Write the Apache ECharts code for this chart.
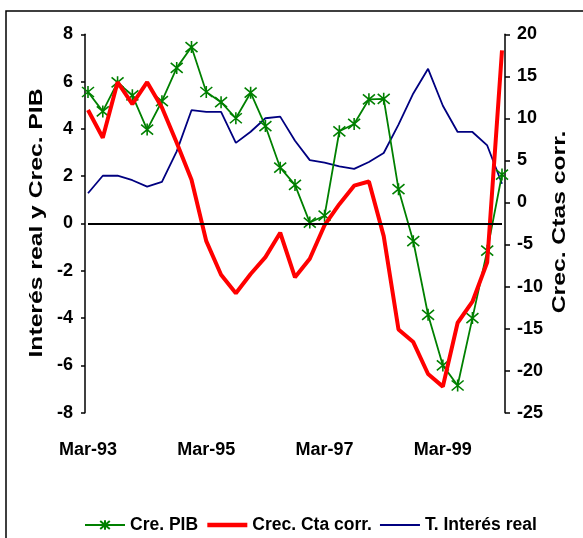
<!DOCTYPE html>
<html>
<head>
<meta charset="utf-8">
<script src="https://cdn.jsdelivr.net/npm/echarts@6/dist/echarts.min.js"></script>
<style>
html,body{margin:0;padding:0;background:#fff;}
#chart{width:583px;height:538px;}
</style>
</head>
<body>
<div id="chart"></div>
<script>
const categories = ['Mar-93','Jun-93','Sep-93','Dec-93','Mar-94','Jun-94','Sep-94','Dec-94',
  'Mar-95','Jun-95','Sep-95','Dec-95','Mar-96','Jun-96','Sep-96','Dec-96',
  'Mar-97','Jun-97','Sep-97','Dec-97','Mar-98','Jun-98','Sep-98','Dec-98',
  'Mar-99','Jun-99','Sep-99','Dec-99','Mar-00'];
const crePIB = [5.56, 4.74, 5.97, 5.42, 3.97, 5.17, 6.58, 7.46, 5.56, 5.13, 4.45, 5.53, 4.12, 2.36, 1.63, 0.04,
  0.33, 3.90, 4.21, 5.25, 5.27, 1.45, -0.75, -3.86, -6.0, -6.85, -4.0, -1.15, 2.07];
const crecCta = [11.0, 7.7, 14.3, 11.7, 14.3, 11.3, 7.1, 2.7, -4.6, -8.6, -10.8, -8.5, -6.5, -3.6, -8.9, -6.7,
  -2.7, -0.2, 2.0, 2.5, -4.0, -15.1, -16.6, -20.4, -21.9, -14.3, -11.8, -7.1, 18.1];
const tInteres = [1.28, 2.02, 2.02, 1.83, 1.56, 1.76, 3.05, 4.79, 4.72, 4.72, 3.41, 3.88, 4.45, 4.52, 3.5, 2.68,
  2.57, 2.42, 2.31, 2.6, 2.98, 4.18, 5.5, 6.54, 4.98, 3.87, 3.87, 3.3, 1.68];
const leftTicks = {min: -8, max: 8, interval: 2};
const rightTicks = {min: -25, max: 20, interval: 5};

const font = '"Liberation Sans", Arial, sans-serif';
const starPath = 'path://M0,-6L0,6M-5,-5L5,5M-5,5L5,-5';

const chart = echarts.init(document.getElementById('chart'), null, {renderer: 'canvas'});
chart.setOption({
  animation: false,
  backgroundColor: '#fff',
  grid: {left: 88, right: 81, top: 34.3, bottom: 125.3, containLabel: false},
  legend: {
    left: 79, top: 511,
    itemWidth: 40, itemHeight: 12, itemGap: 7,
    textStyle: {fontFamily: font, fontWeight: 'bold', fontSize: 17.5, color: '#000'},
    data: [
      {name: 'Cre. PIB', lineStyle: {width: 2}},
      {name: 'Crec. Cta corr.', itemStyle: {opacity: 0}, lineStyle: {width: 4.5}},
      {name: 'T. Interés real', itemStyle: {opacity: 0}, lineStyle: {width: 2}}
    ]
  },
  xAxis: {
    type: 'category', data: categories, boundaryGap: false,
    axisLine: {show: false}, axisTick: {show: false},
    axisLabel: {interval: 7, margin: 28, fontFamily: font, fontWeight: 'bold', fontSize: 18, color: '#000'},
    splitLine: {show: false}
  },
  yAxis: [
    {
      type: 'value', position: 'left', offset: 3,
      min: leftTicks.min, max: leftTicks.max, interval: leftTicks.interval,
      axisLine: {show: true, lineStyle: {color: '#000', width: 1.5}},
      axisTick: {show: true, inside: false, length: 4, lineStyle: {color: '#000', width: 1.5}},
      axisLabel: {margin: 12, fontFamily: font, fontWeight: 'bold', fontSize: 18, color: '#000'},
      splitLine: {show: false}
    },
    {
      type: 'value', position: 'right', offset: 3,
      min: rightTicks.min, max: rightTicks.max, interval: rightTicks.interval,
      axisLine: {show: true, lineStyle: {color: '#000', width: 1.5}},
      axisTick: {show: true, inside: false, length: 5, lineStyle: {color: '#000', width: 1.5}},
      axisLabel: {margin: 12, fontFamily: font, fontWeight: 'bold', fontSize: 18, color: '#000'},
      splitLine: {show: false}
    }
  ],
  series: [
    {
      name: 'T. Interés real', type: 'line', yAxisIndex: 0, data: tInteres,
      symbol: 'none', lineStyle: {color: '#000080', width: 1.8}, itemStyle: {color: '#000080'}, z: 2
    },
    {
      name: 'Cre. PIB', type: 'line', yAxisIndex: 0, data: crePIB,
      symbol: starPath, symbolSize: 12, showSymbol: true, showAllSymbol: true,
      lineStyle: {color: '#008000', width: 1.8},
      itemStyle: {color: '#008000', borderColor: '#008000', borderWidth: 1.6},
      markLine: {
        silent: true, symbol: 'none', label: {show: false},
        lineStyle: {color: '#000', width: 2, type: 'solid'},
        data: [{yAxis: 0}]
      },
      z: 3
    },
    {
      name: 'Crec. Cta corr.', type: 'line', yAxisIndex: 1, data: crecCta,
      symbol: 'none', lineStyle: {color: '#ff0000', width: 4}, itemStyle: {color: '#ff0000'}, z: 4
    }
  ],
  graphic: [
    {type: 'rect', shape: {x: 6, y: 11, width: 700, height: 700}, style: {fill: 'none', stroke: '#000', lineWidth: 1.5}, z: 0, silent: true},
    {type: 'text', x: 37, y: 223, rotation: Math.PI / 2, scaleX: 1.3,
      style: {text: 'Interés real y Crec. PIB', font: 'bold 19px "Liberation Sans", Arial, sans-serif', fill: '#000',
        textAlign: 'center', textVerticalAlign: 'middle', align: 'center', verticalAlign: 'middle'}},
    {type: 'text', x: 560, y: 222, rotation: Math.PI / 2, scaleX: 1.3,
      style: {text: 'Crec. Ctas corr.', font: 'bold 19px "Liberation Sans", Arial, sans-serif', fill: '#000',
        textAlign: 'center', textVerticalAlign: 'middle', align: 'center', verticalAlign: 'middle'}}
  ]
});
</script>
</body>
</html>
